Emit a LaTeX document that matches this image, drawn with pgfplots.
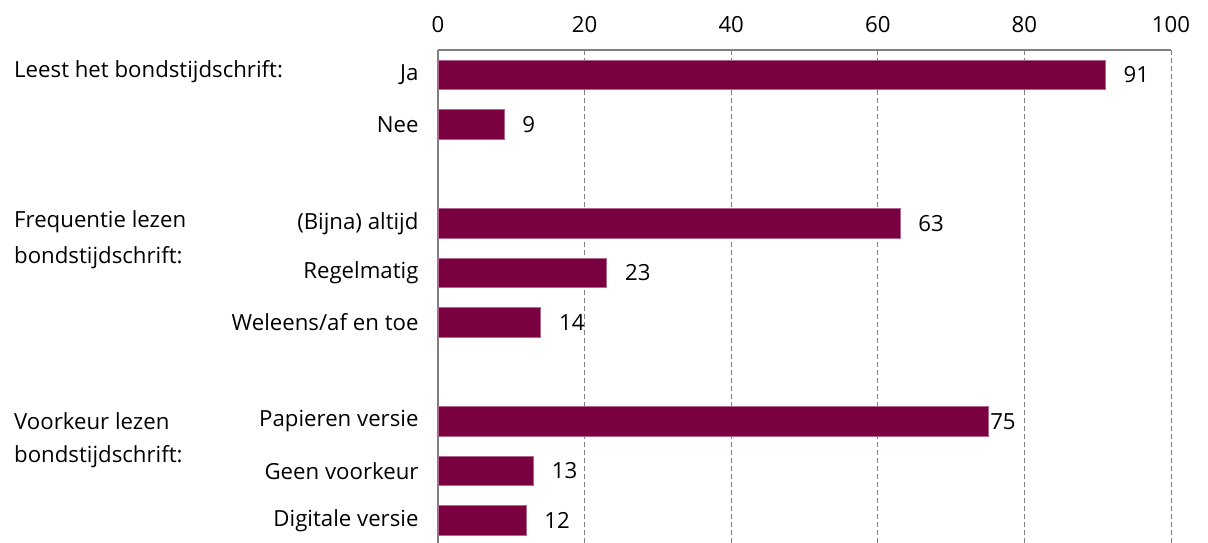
\documentclass[border=0pt]{standalone}
\usepackage{pgfplots}
\pgfplotsset{compat=1.18}
\usepackage{fontspec}
\setmainfont{Open Sans}
\definecolor{barc}{HTML}{7A0040}
\definecolor{gridc}{HTML}{808080}
\newcommand\lblfont{\fontsize{22.3}{26}\selectfont}

\begin{document}
\begin{tikzpicture}[x=1bp, y=1bp]
  \path[use as bounding box] (0,0) rectangle (1208,-543);
  \begin{axis}[
    at={(438bp,-50bp)}, anchor=north west,
    scale only axis, width=733bp, height=493bp,
    xmin=0, xmax=100, ymin=-0.5, ymax=9.46,
    y dir=reverse,
    axis x line=top, axis y line=left,
    axis line style={-, draw=gridc, line width=1.2pt},
    xtick={0,20,40,60,80,100},
    ytick={0,1,3,4,5,7,8,9},
    yticklabels={Ja, Nee, (Bijna) altijd, Regelmatig, Weleens/af en toe,
                 Papieren versie, Geen voorkeur, Digitale versie},
    major tick length=0pt,
    xmajorgrids,
    major grid style={draw=gridc, line width=0.9pt, dash pattern=on 5bp off 3bp},
    tick label style={font=\lblfont},
    xticklabel style={yshift=14bp},
    yticklabel style={xshift=-16bp},
    /pgf/number format/assume math mode=true,
    xbar, bar width=0.59, bar shift=0pt,
    nodes near coords,
    every node near coord/.append style={font=\lblfont, anchor=west, xshift=15bp, black},
    clip=false,
  ]
    \addplot[fill=barc, draw=barc!60!white, line width=0.4pt]
      coordinates {(91,0) (9,1) (63,3) (23,4) (14,5) (13,8) (12,9)};
    \addplot[fill=barc, draw=barc!60!white, line width=0.4pt,
             every node near coord/.append style={xshift=-16bp}]
      coordinates {(75,7)};
  \end{axis}
  \begin{scope}[every node/.style={anchor=west, inner sep=0pt, font=\lblfont}]
    \node at (14,-72) {Leest het bondstijdschrift:};
    \node at (14,-222) {Frequentie lezen};
    \node at (14,-258) {bondstijdschrift:};
    \node at (14,-421) {Voorkeur lezen};
    \node at (14,-457) {bondstijdschrift:};
  \end{scope}
\end{tikzpicture}
\end{document}
